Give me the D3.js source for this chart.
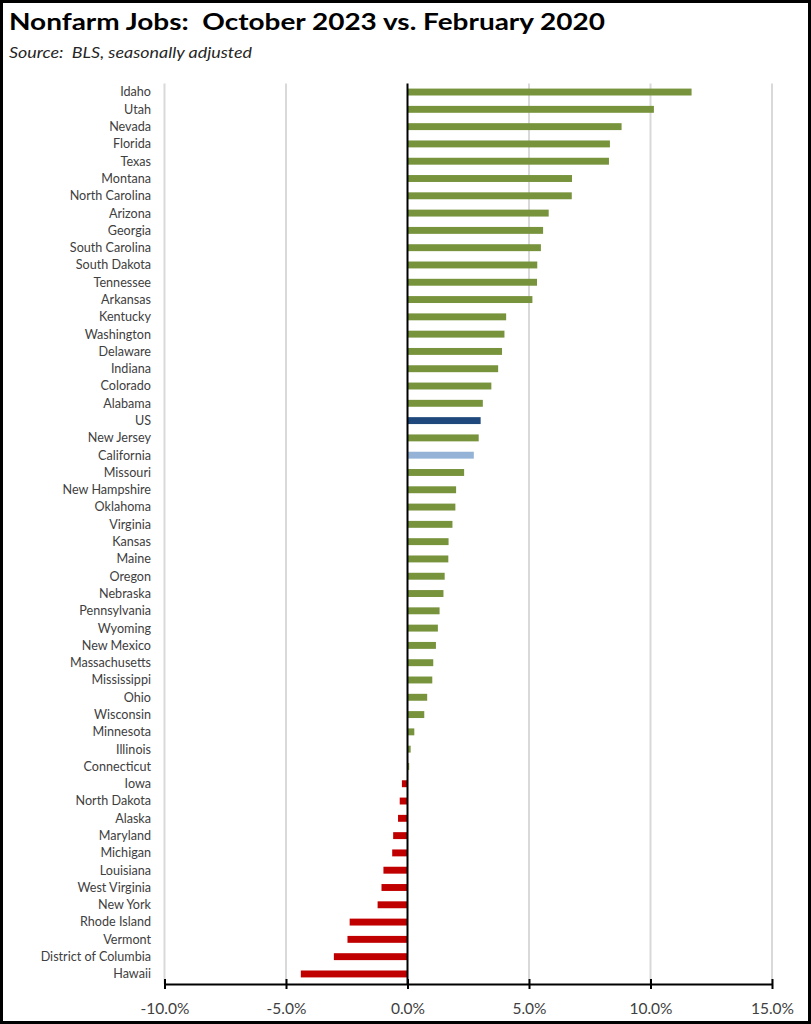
<!DOCTYPE html>
<html>
<head>
<meta charset="utf-8">
<script src="https://cdn.jsdelivr.net/npm/d3@7"></script>
<style>
  html, body { margin: 0; padding: 0; background: #fff; }
  svg { display: block; }
</style>
</head>
<body>
<svg id="chart" width="811" height="1024"></svg>
<script>
const titleText = "Nonfarm Jobs:  October 2023 vs. February 2020";
const subtitleText = "Source:  BLS, seasonally adjusted";

const categories = [
  "Idaho","Utah","Nevada","Florida","Texas","Montana","North Carolina","Arizona",
  "Georgia","South Carolina","South Dakota","Tennessee","Arkansas","Kentucky",
  "Washington","Delaware","Indiana","Colorado","Alabama","US","New Jersey",
  "California","Missouri","New Hampshire","Oklahoma","Virginia","Kansas","Maine",
  "Oregon","Nebraska","Pennsylvania","Wyoming","New Mexico","Massachusetts",
  "Mississippi","Ohio","Wisconsin","Minnesota","Illinois","Connecticut","Iowa",
  "North Dakota","Alaska","Maryland","Michigan","Louisiana","West Virginia",
  "New York","Rhode Island","Vermont","District of Columbia","Hawaii"
];

const values = [
  11.69, 10.14, 8.81, 8.33, 8.29, 6.77, 6.76, 5.81,
  5.58, 5.49, 5.34, 5.33, 5.14, 4.06,
  3.99, 3.89, 3.73, 3.45, 3.10, 3.01, 2.93,
  2.73, 2.33, 2.00, 1.97, 1.85, 1.69, 1.68,
  1.53, 1.48, 1.32, 1.25, 1.17, 1.06,
  1.02, 0.81, 0.69, 0.28, 0.13, 0.07, -0.23,
  -0.32, -0.39, -0.59, -0.63, -0.99, -1.07,
  -1.23, -2.38, -2.47, -3.03, -4.39
];

const tickValues = [-10, -5, 0, 5, 10, 15];

const colors = { pos: "#77933C", neg: "#C00000", us: "#1F497D", ca: "#95B3D7" };

const data = categories.map((c, i) => ({ name: c, value: values[i] }));

const svg = d3.select("#chart");
const W = 811, H = 1024;

// frame
svg.append("rect")
  .attr("x", 1.5).attr("y", 1.5)
  .attr("width", W - 3).attr("height", H - 3)
  .attr("fill", "#fff").attr("stroke", "#000").attr("stroke-width", 3);

// title
svg.append("text")
  .attr("x", 9).attr("y", 30)
  .attr("font-family", "Lato, 'Open Sans', sans-serif")
  .attr("font-weight", 700)
  .attr("font-size", 23.5)
  .attr("fill", "#000")
  .attr("textLength", 596)
  .attr("lengthAdjust", "spacingAndGlyphs")
  .style("white-space", "pre")
  .text(titleText);

svg.append("text")
  .attr("x", 9).attr("y", 58)
  .attr("font-family", "Lato, 'Open Sans', sans-serif")
  .attr("font-style", "italic")
  .attr("font-size", 16)
  .attr("fill", "#262626")
  .attr("textLength", 243)
  .attr("lengthAdjust", "spacingAndGlyphs")
  .style("white-space", "pre")
  .text(subtitleText);

const x = d3.scaleLinear().domain([-10, 15]).range([164.5, 772]);
const y = d3.scaleBand().domain(categories).range([83.4, 982.6]).paddingInner(0.6).paddingOuter(0.3);

const plotTop = 83.4, axisY = 984;

// gridlines
svg.append("g")
  .selectAll("line")
  .data(tickValues.filter(d => d !== 0))
  .join("line")
  .attr("x1", d => x(d)).attr("x2", d => x(d))
  .attr("y1", plotTop).attr("y2", axisY)
  .attr("stroke", "#D9D9D9").attr("stroke-width", 2);

// bars
svg.append("g")
  .selectAll("rect")
  .data(data)
  .join("rect")
  .attr("x", d => x(Math.min(0, d.value)))
  .attr("width", d => Math.abs(x(d.value) - x(0)))
  .attr("y", d => y(d.name))
  .attr("height", y.bandwidth())
  .attr("fill", d => d.name === "US" ? colors.us : d.name === "California" ? colors.ca : (d.value < 0 ? colors.neg : colors.pos));

// zero line
svg.append("line")
  .attr("x1", x(0)).attr("x2", x(0))
  .attr("y1", plotTop).attr("y2", axisY)
  .attr("stroke", "#000").attr("stroke-width", 2);

// category labels
svg.append("g")
  .selectAll("text")
  .data(categories)
  .join("text")
  .attr("x", 151)
  .attr("y", d => y(d) + y.bandwidth() / 2)
  .attr("dy", "0.35em")
  .attr("text-anchor", "end")
  .attr("font-family", "Lato, 'Open Sans', sans-serif")
  .attr("font-size", 12.6)
  .attr("fill", "#404040")
  .text(d => d);

// x axis
const xAxis = d3.axisBottom(x)
  .tickValues(tickValues)
  .tickSize(5)
  .tickSizeOuter(0)
  .tickFormat(d => d3.format(".1f")(d).replace("\u2212", "-") + "%");

const gx = svg.append("g").attr("transform", `translate(0,${axisY})`).call(xAxis);
gx.select(".domain").attr("stroke", "#000").attr("stroke-width", 2);
gx.selectAll(".tick line").attr("stroke", "#000").attr("stroke-width", 2).attr("y1", -5).attr("y2", 5);
gx.selectAll(".tick text")
  .attr("y", 19)
  .attr("dy", "0.71em")
  .attr("font-family", "Lato, 'Open Sans', sans-serif")
  .attr("font-size", 15.5)
  .attr("fill", "#404040");
</script>
</body>
</html>
